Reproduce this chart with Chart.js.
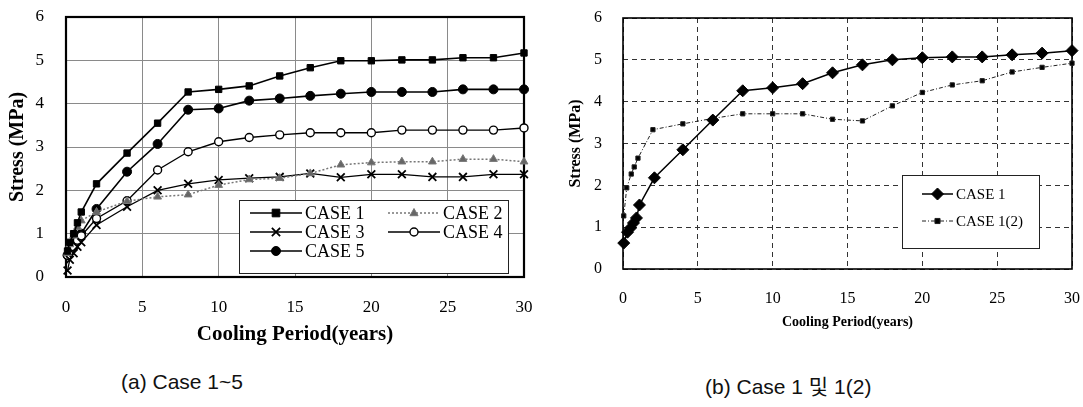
<!DOCTYPE html>
<html>
<head>
<meta charset="utf-8">
<script src="https://cdn.jsdelivr.net/npm/chart.js@4.4.0/dist/chart.umd.min.js"></script>
<style>
  body { margin: 0; background: #fff; width: 1083px; height: 407px; position: relative; overflow: hidden; }
  #wrapA { position: absolute; left: 0; top: 0; width: 540px; height: 350px; }
  #wrapB { position: absolute; left: 560px; top: 0; width: 523px; height: 335px; }
  .cap { position: absolute; top: 370px; font-size: 21px; color: #111;
         font-family: 'Liberation Sans', 'Noto Sans CJK KR', sans-serif; white-space: nowrap; }
</style>
</head>
<body>
<div id="wrapA"><canvas id="chartA"></canvas></div>
<div id="wrapB"><canvas id="chartB"></canvas></div>
<div class="cap" style="left:121px">(a) Case 1~5</div>
<div class="cap" style="left:705px">(b) Case 1 및 1(2)</div>
<script>
// ---- (a) Case 1~5 ----
var yearsA = [0.1, 0.25, 0.5, 0.75, 1, 2, 4, 6, 8, 10, 12, 14, 16, 18, 20, 22, 24, 26, 28, 30];
var case1 = [0.6, 0.8, 1.0, 1.25, 1.5, 2.15, 2.86, 3.55, 4.27, 4.33, 4.41, 4.64, 4.83, 4.99, 4.99, 5.01, 5.01, 5.06, 5.06, 5.17];
var case2 = [0.55, 0.75, 0.95, 1.15, 1.3, 1.5, 1.75, 1.85, 1.9, 2.12, 2.25, 2.28, 2.39, 2.59, 2.64, 2.66, 2.66, 2.72, 2.72, 2.66];
var case3 = [0.15, 0.4, 0.55, 0.7, 0.8, 1.2, 1.62, 2.0, 2.15, 2.24, 2.28, 2.31, 2.39, 2.3, 2.37, 2.37, 2.31, 2.31, 2.37, 2.37];
var case4 = [0.5, 0.6, 0.7, 0.85, 0.95, 1.35, 1.76, 2.47, 2.89, 3.12, 3.22, 3.28, 3.33, 3.33, 3.33, 3.39, 3.39, 3.39, 3.39, 3.44];
var case5 = [0.5, 0.6, 0.7, 0.85, 1.0, 1.57, 2.43, 3.07, 3.86, 3.89, 4.07, 4.12, 4.18, 4.23, 4.27, 4.27, 4.27, 4.33, 4.33, 4.33];

// ---- (b) Case 1 and 1(2) ----
var yearsB1 = [0.05, 0.3, 0.5, 0.7, 0.9, 1.1, 2.1, 4, 6, 8, 10, 12, 14, 16, 18, 20, 22, 24, 26, 28, 30];
var caseB1 = [0.62, 0.88, 0.98, 1.1, 1.22, 1.53, 2.18, 2.85, 3.56, 4.26, 4.33, 4.43, 4.69, 4.88, 5.0, 5.05, 5.07, 5.07, 5.12, 5.16, 5.22];
var yearsB2 = [0.05, 0.25, 0.55, 0.75, 1.0, 2, 4, 6, 8, 10, 12, 14, 16, 18, 20, 22, 24, 26, 28, 30];
var caseB2 = [1.27, 1.94, 2.27, 2.44, 2.65, 3.33, 3.47, 3.6, 3.71, 3.71, 3.71, 3.58, 3.54, 3.9, 4.22, 4.4, 4.5, 4.71, 4.82, 4.92];

var SERIF = "'Liberation Serif', 'DejaVu Serif', serif";

function pts(xs, ys) {
  return xs.map(function(x, i) { return {x: x, y: ys[i]}; });
}

// fixed axis box, no extra label padding pushed into the layout
function fixBox(w, h) {
  return function(s) {
    if (w) s.width = w;
    if (h) s.height = h;
    s.paddingTop = s.paddingBottom = s.paddingLeft = s.paddingRight = 0;
  };
}

// small marker painter for the legends
function marker(ctx, ds, x, y) {
  var r = ds.pointRadius;
  ctx.save();
  ctx.lineWidth = ds.pointBorderWidth || 1;
  ctx.strokeStyle = ds.pointBorderColor || ds.borderColor;
  ctx.fillStyle = ds.pointBackgroundColor || ds.backgroundColor;
  ctx.beginPath();
  switch (ds.pointStyle) {
    case 'rect':
      ctx.rect(x - r * 0.85, y - r * 0.85, r * 1.7, r * 1.7); ctx.fill(); ctx.stroke(); break;
    case 'rectRot':
      ctx.moveTo(x, y - r); ctx.lineTo(x + r, y); ctx.lineTo(x, y + r); ctx.lineTo(x - r, y);
      ctx.closePath(); ctx.fill(); ctx.stroke(); break;
    case 'triangle':
      ctx.moveTo(x, y - r); ctx.lineTo(x + r * 0.9, y + r * 0.6); ctx.lineTo(x - r * 0.9, y + r * 0.6);
      ctx.closePath(); ctx.fill(); ctx.stroke(); break;
    case 'crossRot':
      var d = r * 0.75;
      ctx.moveTo(x - d, y - d); ctx.lineTo(x + d, y + d);
      ctx.moveTo(x + d, y - d); ctx.lineTo(x - d, y + d); ctx.stroke(); break;
    default:
      ctx.arc(x, y, r, 0, Math.PI * 2); ctx.fill(); ctx.stroke();
  }
  ctx.restore();
}

function legendPlugin(box, items, fontSize) {
  return {
    id: 'boxLegend',
    afterDatasetsDraw: function(chart) {
      var ctx = chart.ctx;
      ctx.save();
      ctx.fillStyle = '#fff';
      ctx.fillRect(box[0], box[1], box[2], box[3]);
      ctx.strokeStyle = '#222';
      ctx.lineWidth = 1;
      ctx.strokeRect(box[0] + 0.5, box[1] + 0.5, box[2], box[3]);
      items.forEach(function(it) {
        var ds = chart.data.datasets[it.i];
        ctx.save();
        ctx.strokeStyle = ds.borderColor;
        ctx.lineWidth = ds.borderWidth;
        ctx.setLineDash(ds.borderDash || []);
        ctx.beginPath();
        ctx.moveTo(it.x1, it.y); ctx.lineTo(it.x2, it.y); ctx.stroke();
        ctx.restore();
        marker(ctx, ds, (it.x1 + it.x2) / 2, it.y);
        ctx.fillStyle = '#000';
        ctx.font = fontSize + 'px ' + SERIF;
        ctx.textBaseline = 'middle';
        ctx.textAlign = 'left';
        ctx.fillText(ds.label, it.x2 + 3, it.y + 1);
      });
      ctx.restore();
    }
  };
}

var framePlugin = {
  id: 'frame',
  beforeDatasetsDraw: function(chart, args, opts) {
    var a = chart.chartArea, ctx = chart.ctx;
    ctx.save();
    ctx.strokeStyle = '#000';
    ctx.lineWidth = opts.width || 2;
    ctx.strokeRect(a.left, a.top, a.right - a.left, a.bottom - a.top);
    ctx.restore();
  }
};

Chart.defaults.animation = false;
Chart.defaults.color = '#000';

// chart (a)
new Chart(document.getElementById('chartA'), {
  type: 'line',
  data: {
    datasets: [
      { label: 'CASE 1', data: pts(yearsA, case1), borderColor: '#000', backgroundColor: '#000',
        borderWidth: 1.6, pointStyle: 'rect', pointRadius: 4.5, pointBorderWidth: 1 },
      { label: 'CASE 2', data: pts(yearsA, case2), borderColor: '#777', backgroundColor: '#666',
        borderWidth: 1.5, borderDash: [2, 2], pointStyle: 'triangle', pointRadius: 4.5, pointBorderWidth: 1 },
      { label: 'CASE 3', data: pts(yearsA, case3), borderColor: '#000', backgroundColor: '#000',
        borderWidth: 1.3, pointStyle: 'crossRot', pointRadius: 5.5, pointBorderWidth: 1.8 },
      { label: 'CASE 4', data: pts(yearsA, case4), borderColor: '#000', backgroundColor: '#fff',
        pointBackgroundColor: '#fff', borderWidth: 1.4, pointStyle: 'circle', pointRadius: 4, pointBorderWidth: 1.4 },
      { label: 'CASE 5', data: pts(yearsA, case5), borderColor: '#000', backgroundColor: '#000',
        borderWidth: 1.6, pointStyle: 'circle', pointRadius: 4.5, pointBorderWidth: 1 }
    ].map(function(d) { d.clip = false; d.tension = 0; return d; })
  },
  options: {
    responsive: true,
    maintainAspectRatio: false,
    layout: { padding: { left: 0, right: 16, top: 17, bottom: 3 } },
    plugins: { legend: { display: false }, tooltip: { enabled: false }, frame: { width: 2.2 } },
    scales: {
      x: {
        type: 'linear', min: 0, max: 30,
        ticks: { stepSize: 5, padding: 20, font: { family: SERIF, size: 17 } },
        grid: { color: '#8a8a8a', lineWidth: 1, drawTicks: false },
        border: { display: false },
        title: { display: true, text: 'Cooling Period(years)', font: { family: SERIF, size: 21, weight: 'bold' },
                 padding: { top: 0, bottom: 0 } },
        afterFit: fixBox(0, 70)
      },
      y: {
        min: 0, max: 6,
        ticks: { stepSize: 1, padding: 22, font: { family: SERIF, size: 17 } },
        grid: { color: '#8a8a8a', lineWidth: 1, drawTicks: false },
        border: { display: false },
        title: { display: true, text: 'Stress (MPa)', font: { family: SERIF, size: 20, weight: 'bold' },
                 padding: { top: 6, bottom: 0 } },
        afterFit: fixBox(66, 0)
      }
    }
  },
  plugins: [framePlugin, legendPlugin([239, 200, 269, 73], [
    { i: 0, x1: 250, x2: 302, y: 213 },
    { i: 1, x1: 388, x2: 440, y: 213 },
    { i: 2, x1: 250, x2: 302, y: 232 },
    { i: 3, x1: 388, x2: 440, y: 232 },
    { i: 4, x1: 250, x2: 302, y: 251 }
  ], 18)]
});

// chart (b)
new Chart(document.getElementById('chartB'), {
  type: 'line',
  data: {
    datasets: [
      { label: 'CASE 1', data: pts(yearsB1, caseB1), borderColor: '#000', backgroundColor: '#000',
        borderWidth: 1.5, pointStyle: 'rectRot', pointRadius: 6, pointBorderWidth: 1 },
      { label: 'CASE 1(2)', data: pts(yearsB2, caseB2), borderColor: '#222', backgroundColor: '#000',
        borderWidth: 1, borderDash: [4, 2, 1, 2], pointStyle: 'rect', pointRadius: 3, pointBorderWidth: 1 }
    ].map(function(d) { d.clip = false; d.tension = 0; return d; })
  },
  options: {
    responsive: true,
    maintainAspectRatio: false,
    layout: { padding: { left: 0, right: 11, top: 18, bottom: 4 } },
    plugins: { legend: { display: false }, tooltip: { enabled: false }, frame: { width: 1.6 } },
    scales: {
      x: {
        type: 'linear', min: 0, max: 30,
        ticks: { stepSize: 5, padding: 20, font: { family: SERIF, size: 16 } },
        grid: { color: '#333', lineWidth: 1, drawTicks: false },
        border: { display: false, dash: [5, 4] },
        title: { display: true, text: 'Cooling Period(years)', font: { family: SERIF, size: 14, weight: 'bold' },
                 padding: { top: 0, bottom: 0 } },
        afterFit: fixBox(0, 62)
      },
      y: {
        min: 0, max: 6,
        ticks: { stepSize: 1, padding: 21, font: { family: SERIF, size: 16 } },
        grid: { color: '#333', lineWidth: 1, drawTicks: false },
        border: { display: false, dash: [5, 4] },
        title: { display: true, text: 'Stress (MPa)', font: { family: SERIF, size: 16, weight: 'bold' },
                 padding: { top: 6, bottom: 0 } },
        afterFit: fixBox(63, 0)
      }
    }
  },
  plugins: [framePlugin, legendPlugin([342, 175, 137, 73], [
    { i: 0, x1: 362, x2: 393, y: 194 },
    { i: 1, x1: 362, x2: 393, y: 221 }
  ], 15)]
});
</script>
</body>
</html>
